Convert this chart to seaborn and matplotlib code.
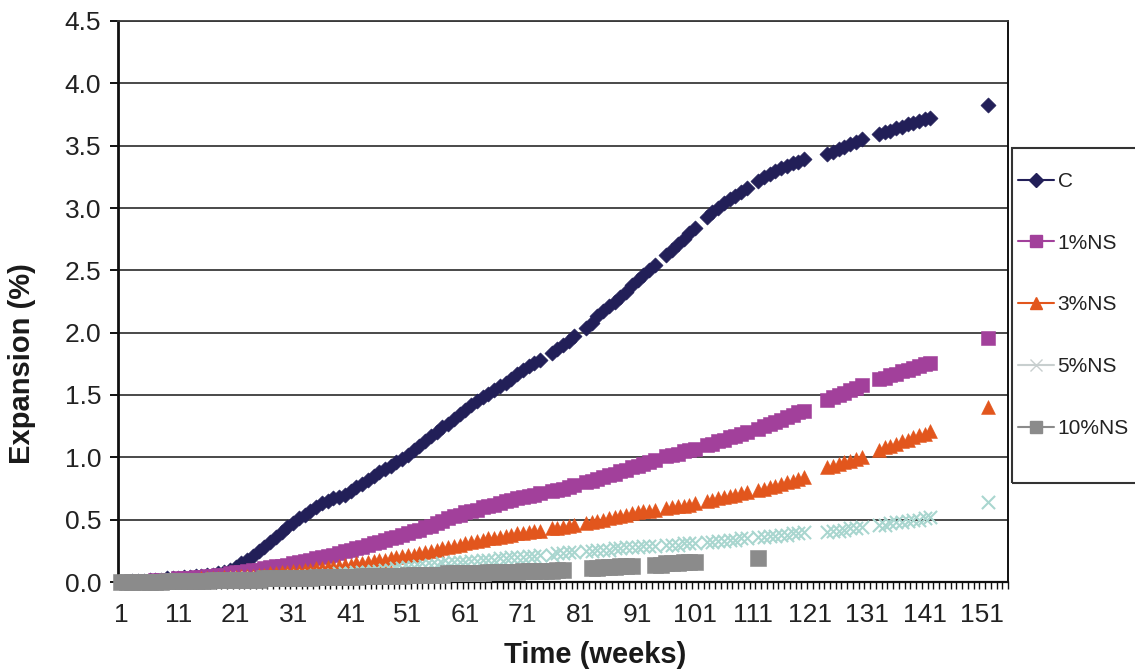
import matplotlib
matplotlib.use("Agg")
import matplotlib.pyplot as plt
from matplotlib.lines import Line2D
from matplotlib.patches import Rectangle
from matplotlib.ticker import MultipleLocator, FixedLocator
import seaborn as sns

# --- data ---
# weekly readings; a few weeks have no reading
weeks = ([w for w in range(1, 121) if w not in (75, 81, 95, 102, 111)]
         + list(range(124, 131)) + list(range(133, 143)) + [152])
weeks_10 = list(range(1, 79)) + list(range(83, 91)) + list(range(94, 102)) + [112]

exp_c = [
    0.00, 0.00, 0.01, 0.01, 0.01, 0.02, 0.02, 0.02, 0.03, 0.03,
    0.03, 0.04, 0.04, 0.05, 0.05, 0.06, 0.06, 0.07, 0.08, 0.10,
    0.12, 0.15, 0.18, 0.21, 0.25, 0.28, 0.32, 0.36, 0.40, 0.44,
    0.47, 0.51, 0.54, 0.57, 0.60, 0.63, 0.65, 0.67, 0.68, 0.70,
    0.73, 0.76, 0.79, 0.82, 0.85, 0.88, 0.91, 0.93, 0.96, 0.99,
    1.02, 1.06, 1.09, 1.13, 1.17, 1.20, 1.24, 1.27, 1.31, 1.35,
    1.38, 1.42, 1.45, 1.48, 1.51, 1.54, 1.57, 1.60, 1.63, 1.67,
    1.70, 1.73, 1.76, 1.78, 1.84, 1.87, 1.90, 1.93, 1.97,
    2.04, 2.08, 2.13, 2.17, 2.21, 2.25, 2.29, 2.33, 2.38,
    2.42, 2.46, 2.50, 2.54, 2.62, 2.66, 2.71, 2.75, 2.80,
    2.84, 2.93, 2.97, 3.00, 3.04, 3.07, 3.10, 3.13, 3.16,
    3.22, 3.25, 3.27, 3.30, 3.32, 3.34, 3.36, 3.37, 3.39,
    3.43, 3.45, 3.47, 3.49, 3.51, 3.53, 3.55,
    3.59, 3.61, 3.62, 3.64, 3.65, 3.67, 3.68, 3.70, 3.71, 3.72,
    3.83,
]
exp_1ns = [
    0.00, 0.00, 0.01, 0.01, 0.01, 0.01, 0.02, 0.02, 0.02, 0.02,
    0.03, 0.03, 0.03, 0.04, 0.04, 0.05, 0.05, 0.06, 0.06, 0.07,
    0.08, 0.08, 0.09, 0.10, 0.10, 0.11, 0.12, 0.13, 0.13, 0.14,
    0.15, 0.16, 0.17, 0.18, 0.19, 0.20, 0.21, 0.22, 0.23, 0.25,
    0.26, 0.27, 0.28, 0.30, 0.31, 0.32, 0.34, 0.35, 0.36, 0.38,
    0.39, 0.41, 0.42, 0.44, 0.45, 0.47, 0.49, 0.51, 0.53, 0.54,
    0.56, 0.57, 0.58, 0.60, 0.61, 0.62, 0.63, 0.65, 0.66, 0.67,
    0.68, 0.69, 0.70, 0.71, 0.73, 0.74, 0.75, 0.76, 0.78,
    0.80, 0.81, 0.83, 0.84, 0.86, 0.87, 0.89, 0.90, 0.92,
    0.93, 0.95, 0.96, 0.98, 1.01, 1.02, 1.03, 1.05, 1.06,
    1.07, 1.10, 1.11, 1.13, 1.14, 1.16, 1.17, 1.19, 1.20,
    1.23, 1.25, 1.27, 1.28, 1.30, 1.32, 1.34, 1.36, 1.37,
    1.46, 1.48, 1.50, 1.52, 1.54, 1.56, 1.58,
    1.63, 1.64, 1.66, 1.67, 1.69, 1.70, 1.72, 1.73, 1.75, 1.76,
    1.96,
]
exp_3ns = [
    0.00, 0.00, 0.00, 0.00, 0.01, 0.01, 0.01, 0.01, 0.01, 0.01,
    0.02, 0.02, 0.02, 0.02, 0.03, 0.03, 0.03, 0.03, 0.04, 0.04,
    0.04, 0.05, 0.05, 0.05, 0.06, 0.06, 0.07, 0.07, 0.08, 0.08,
    0.09, 0.09, 0.10, 0.10, 0.11, 0.11, 0.12, 0.12, 0.13, 0.14,
    0.14, 0.15, 0.15, 0.16, 0.17, 0.18, 0.18, 0.19, 0.20, 0.21,
    0.22, 0.22, 0.23, 0.24, 0.25, 0.26, 0.27, 0.28, 0.29, 0.30,
    0.31, 0.32, 0.33, 0.34, 0.35, 0.35, 0.36, 0.37, 0.38, 0.39,
    0.39, 0.40, 0.41, 0.41, 0.43, 0.43, 0.44, 0.45, 0.46,
    0.47, 0.48, 0.49, 0.50, 0.51, 0.52, 0.53, 0.54, 0.55,
    0.56, 0.57, 0.57, 0.58, 0.59, 0.60, 0.61, 0.61, 0.62,
    0.63, 0.65, 0.66, 0.67, 0.68, 0.69, 0.70, 0.71, 0.72,
    0.74, 0.75, 0.76, 0.77, 0.79, 0.80, 0.81, 0.83, 0.84,
    0.92, 0.93, 0.95, 0.96, 0.97, 0.99, 1.00,
    1.06, 1.08, 1.09, 1.11, 1.13, 1.14, 1.16, 1.18, 1.19, 1.21,
    1.40,
]
exp_5ns = [
    0.00, 0.00, 0.00, 0.00, 0.00, 0.00, 0.00, 0.01, 0.01, 0.01,
    0.01, 0.01, 0.01, 0.01, 0.02, 0.02, 0.02, 0.02, 0.02, 0.02,
    0.03, 0.03, 0.03, 0.03, 0.03, 0.04, 0.04, 0.04, 0.04, 0.04,
    0.05, 0.05, 0.05, 0.05, 0.06, 0.06, 0.06, 0.06, 0.07, 0.07,
    0.07, 0.08, 0.08, 0.08, 0.09, 0.09, 0.10, 0.10, 0.11, 0.11,
    0.12, 0.12, 0.13, 0.13, 0.14, 0.14, 0.15, 0.15, 0.16, 0.16,
    0.16, 0.17, 0.17, 0.18, 0.18, 0.18, 0.19, 0.19, 0.20, 0.20,
    0.20, 0.21, 0.21, 0.22, 0.22, 0.23, 0.23, 0.24, 0.24,
    0.25, 0.25, 0.26, 0.26, 0.26, 0.27, 0.27, 0.28, 0.28,
    0.28, 0.29, 0.29, 0.29, 0.30, 0.30, 0.30, 0.31, 0.31,
    0.31, 0.32, 0.32, 0.33, 0.33, 0.34, 0.34, 0.35, 0.35,
    0.36, 0.36, 0.37, 0.37, 0.38, 0.38, 0.39, 0.39, 0.40,
    0.40, 0.41, 0.41, 0.42, 0.43, 0.43, 0.44,
    0.46, 0.46, 0.47, 0.48, 0.48, 0.49, 0.50, 0.50, 0.51, 0.52,
    0.64,
]
exp_10ns = [
    0.00, 0.00, 0.00, 0.00, 0.00, 0.00, 0.00, 0.00, 0.01, 0.01,
    0.01, 0.01, 0.01, 0.01, 0.01, 0.01, 0.02, 0.02, 0.02, 0.02,
    0.02, 0.02, 0.02, 0.02, 0.02, 0.03, 0.03, 0.03, 0.03, 0.03,
    0.03, 0.03, 0.03, 0.03, 0.04, 0.04, 0.04, 0.04, 0.04, 0.04,
    0.04, 0.04, 0.05, 0.05, 0.05, 0.05, 0.05, 0.05, 0.05, 0.05,
    0.06, 0.06, 0.06, 0.06, 0.06, 0.06, 0.06, 0.07, 0.07, 0.07,
    0.07, 0.07, 0.07, 0.07, 0.08, 0.08, 0.08, 0.08, 0.08, 0.08,
    0.09, 0.09, 0.09, 0.09, 0.09, 0.09, 0.10, 0.10,
    0.11, 0.11, 0.12, 0.12, 0.12, 0.13, 0.13, 0.13,
    0.14, 0.14, 0.15, 0.15, 0.15, 0.16, 0.16, 0.16,
    0.19,
]

series_labels = ["C", "1%NS", "3%NS", "5%NS", "10%NS"]
xtick_labels = [str(w) for w in range(1, 152, 10)]

# --- style ---
sns.set_style("white")
plt.rcParams["font.family"] = ["Liberation Sans", "DejaVu Sans"]
plt.rcParams["text.color"] = "#222222"

fig = plt.figure(figsize=(11.35, 6.7), dpi=100)
ax = fig.add_axes([118 / 1135, 1 - 582 / 670, 890 / 1135, 561 / 670])

styles = [
    dict(marker="D", color="#221f58", s=60),
    dict(marker="s", color="#a2409b", s=100),
    dict(marker="^", color="#e2561d", s=100),
    dict(marker="x", color="#a9d6cf", s=90),
    dict(marker="s", color="#8b8b8b", s=125),
]
data = [(weeks, exp_c), (weeks, exp_1ns), (weeks, exp_3ns),
        (weeks, exp_5ns), (weeks_10, exp_10ns)]

for (xs, ys), st in zip(data, styles):
    lw = 1.5 if st["marker"] == "x" else 0.4
    sns.scatterplot(x=xs, y=ys, marker=st["marker"], s=st["s"],
                    color=st["color"], edgecolor=st["color"], linewidth=lw,
                    ax=ax, legend=False, clip_on=False, zorder=3)

ax.set_xlim(0.5, 155.5)
ax.set_ylim(0, 4.5)

ax.yaxis.set_major_locator(MultipleLocator(0.5))
ax.yaxis.set_major_formatter(matplotlib.ticker.FormatStrFormatter("%.1f"))
ax.xaxis.set_major_locator(FixedLocator(list(range(1, 152, 10))))
ax.set_xticklabels(xtick_labels)
ax.xaxis.set_minor_locator(FixedLocator([k + 0.5 for k in range(0, 156)]))

ax.grid(axis="y", color="#3a3a3a", linewidth=1.3)
ax.grid(axis="x", visible=False)
ax.set_axisbelow(True)

for side in ["left", "bottom", "right", "top"]:
    ax.spines[side].set_visible(True)
    ax.spines[side].set_color("#111111")
ax.spines["left"].set_linewidth(2.0)
ax.spines["bottom"].set_linewidth(1.6)
ax.spines["right"].set_linewidth(1.4)
ax.spines["top"].set_linewidth(1.3)
ax.spines["top"].set_color("#3a3a3a")

ax.tick_params(axis="y", which="major", direction="out", length=6, width=1.4,
               color="#111111", labelsize=19, pad=6, labelcolor="#222222", left=True)
ax.tick_params(axis="x", which="major", length=0, labelsize=19, pad=15,
               labelcolor="#222222", bottom=True)
ax.tick_params(axis="x", which="minor", direction="out", length=5, width=1.0,
               color="#111111", bottom=True)

ax.set_xlabel("Time (weeks)", fontsize=21, fontweight="bold", color="#1a1a1a")
ax.xaxis.set_label_coords((595 - 118) / 890, -0.105)
ax.set_ylabel("Expansion (%)", fontsize=21, fontweight="bold", color="#1a1a1a")
ax.yaxis.set_label_coords(-0.092, 0.39)

# legend: Excel-style line + marker handles
handles = []
for lab, st in zip(series_labels, styles):
    ms = {"D": 7, "s": 8, "^": 8, "x": 8}[st["marker"]]
    if lab == "10%NS":
        ms = 8.5
    lcol = "#c8cfcf" if lab == "5%NS" else st["color"]
    handles.append(Line2D([0], [0], color=lcol, linewidth=1.5,
                          marker=st["marker"], markersize=ms,
                          markerfacecolor=st["color"], markeredgecolor=lcol,
                          label=lab))
fig.legend(handles=handles, loc="upper left",
           bbox_to_anchor=(1018 / 1135, 1 - 172 / 670), frameon=False,
           fontsize=15, labelspacing=2.05, handlelength=1.75,
           handletextpad=0.15, borderpad=0, borderaxespad=0, numpoints=1)
fig.add_artist(Rectangle((1012 / 1135, 1 - 483 / 670), 0.2, 335 / 670,
                         transform=fig.transFigure, fill=False,
                         edgecolor="#333333", linewidth=1.5))

fig.savefig("out.png", dpi=100)
